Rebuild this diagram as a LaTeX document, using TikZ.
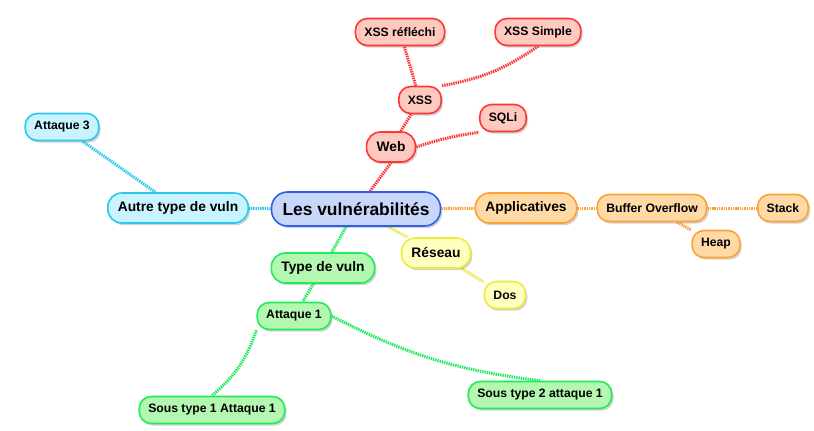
\documentclass[tikz,border=0pt]{standalone}
\usepackage{fontspec}
\setmainfont{Liberation Sans}
\usetikzlibrary{shadows,backgrounds}
\definecolor{redfill}{HTML}{FFC9C0}
\definecolor{redline}{HTML}{FF3535}
\definecolor{orangefill}{HTML}{FFD9A6}
\definecolor{orangeline}{HTML}{FFA030}
\definecolor{yellowfill}{HTML}{FFFFC0}
\definecolor{yellowline}{HTML}{EAEA40}
\definecolor{greenfill}{HTML}{B3F7B0}
\definecolor{greenline}{HTML}{22EA60}
\definecolor{cyanfill}{HTML}{C8F3FF}
\definecolor{cyanline}{HTML}{2CC8EE}
\definecolor{bluefill}{HTML}{C8D7F9}
\definecolor{blueline}{HTML}{2F5FE8}

\begin{document}
\begin{tikzpicture}[x=1pt,y=-1pt,
  bubble/.style={rectangle,rounded corners=12pt,line width=1.6pt,
    inner xsep=9pt,inner ysep=0pt,minimum height=27pt,
    font=\bfseries\fontsize{12.2}{12}\selectfont,
    drop shadow={opacity=0.35,shadow xshift=1.8pt,shadow yshift=-2.2pt}},
  big/.style={bubble,minimum height=30pt,font=\bfseries\fontsize{13.8}{14}\selectfont,inner xsep=10pt,rounded corners=14pt},
  root/.style={bubble,minimum height=34pt,font=\bfseries\fontsize{17.4}{18}\selectfont,inner xsep=11pt,rounded corners=16pt,
    fill=bluefill,draw=blueline},
  red/.style={fill=redfill,draw=redline},
  orange/.style={fill=orangefill,draw=orangeline},
  yellow/.style={fill=yellowfill,draw=yellowline},
  green/.style={fill=greenfill,draw=greenline},
  cyan/.style={fill=cyanfill,draw=cyanline},
  link/.style={line width=3pt,dash pattern=on 1.4pt off 0.9pt}]
\useasboundingbox (0,0) rectangle (814,431);

% centre
\node[root] (vuln) at (356,209) {Les vulnérabilités};

% web
\node[big,red] (web) at (391,147) {Web};
\node[bubble,red] (xss) at (420,100) {XSS};
\node[bubble,red] (sqli) at (503,118) {SQLi};
\node[bubble,red] (xssr) at (400,32) {XSS réfléchi};
\node[bubble,red] (xsss) at (538,32) {XSS Simple};

% applicatives
\node[big,orange] (appli) at (526,208) {Applicatives};
\node[bubble,orange] (bof) at (652,208) {Buffer Overflow};
\node[bubble,orange] (stack) at (783,208) {Stack};
\node[bubble,orange] (heap) at (716,244) {Heap};

% reseau
\node[big,yellow] (reseau) at (436,253) {Réseau};
\node[bubble,yellow] (dos) at (505,295) {Dos};

% type de vuln
\node[big,green] (type) at (323,268) {Type de vuln};
\node[bubble,green] (att1) at (294,316) {Attaque 1};
\node[bubble,green] (sous1) at (212,410) {Sous type 1 Attaque 1};
\node[bubble,green] (sous2) at (540,395) {Sous type 2 attaque 1};

% autre
\node[big,cyan] (autre) at (178,208) {Autre type de vuln};
\node[bubble,cyan] (att3) at (62,127) {Attaque 3};

\begin{pgfonlayer}{background}
\draw[link,redline] (vuln.north) ++(14,0) -- (web.south);
\draw[link,redline] (web) -- (xss);
\draw[link,redline] (web.east) to[bend left=5] (sqli.south west);
\draw[link,redline] (xss) -- (xssr);
\draw[link,redline] (xss.north east) to[bend right=12] (xsss.south);
\draw[link,orangeline] (vuln) -- (appli);
\draw[link,orangeline] (appli) -- (bof);
\draw[link,orangeline] (bof) -- (stack);
\draw[link,orangeline] (bof) -- (heap);
\draw[link,yellowline] (vuln) -- (reseau);
\draw[link,yellowline] (reseau) -- (dos);
\draw[link,greenline] (vuln) -- (type);
\draw[link,greenline] (type) -- (att1);
\draw[link,greenline] (att1.south west) to[bend left=15] (sous1.north);
\draw[link,greenline] (att1.east) to[bend right=10] (sous2.north);
\draw[link,cyanline] (vuln) -- (autre);
\draw[link,cyanline] (autre) -- (att3);
\end{pgfonlayer}
\end{tikzpicture}
\end{document}
